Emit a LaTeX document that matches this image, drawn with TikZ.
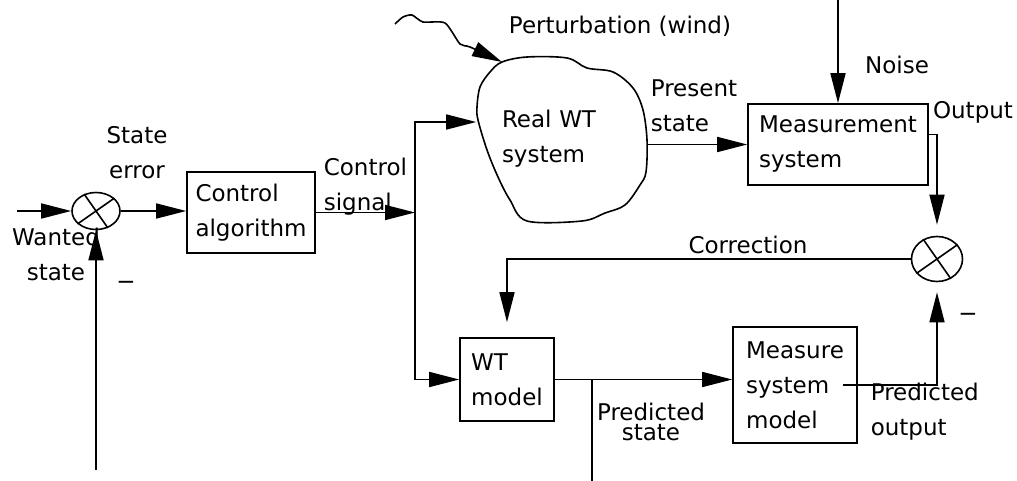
\documentclass[tikz,border=0pt]{standalone}
\usepackage{fontspec}
\setmainfont{DejaVu Sans}
\usetikzlibrary{arrows.meta,shapes.geometric,calc}
\newcommand{\sumcross}[1]{%
  \draw (#1.125)--(#1.-55); \draw (#1.215)--(#1.35);}

\begin{document}
\begin{tikzpicture}[x=0.5pt,y=-0.5pt,line width=0.8pt,
  >={Triangle[length=15pt,width=7.5pt]},
  every node/.style={font=\fontsize{11.5}{17.5}\selectfont},
  block/.style={draw,align=left,inner sep=0pt},
  junction/.style={draw,ellipse,inner sep=0pt},
  lbl/.style={inner sep=0pt}]
  \useasboundingbox (0,0) rectangle (1017,481);
  \node[junction,minimum width=24pt,minimum height=18.5pt] (sum1) at (96,211) {};
  \node[junction,minimum width=25.5pt,minimum height=22.5pt] (sum2) at (937,259) {};
  \sumcross{sum1}
  \sumcross{sum2}
  \node[block,minimum width=64pt,minimum height=40.5pt] (ctrl) at (251,212.5) {Control\\algorithm};
  \node[minimum height=82pt,text width=60pt,inner xsep=12.5pt,align=left] (rwt) at (562,139) {Real WT\\system};
  \node[block,minimum width=90pt,minimum height=40.5pt] (meas) at (838,144.5) {Measurement\\system};
  \node[block,minimum width=47pt,minimum height=41.5pt] (wtm) at (507,379.5) {WT\\model};
  \node[block,minimum width=62pt,minimum height=58pt] (msm) at (795,385) {Measure\\system\\model};
  \draw plot[smooth cycle,tension=0.55] coordinates {(502,62) (527,57) (567,58) (587,68)
    (613,72) (633,88) (643,110) (647,140) (646,172) (640,185) (625,205) (605,213)
    (582,221) (527,221) (510,200) (498,177) (487,150) (478,120) (477,107) (480,87) (490,72)};
  \draw[->] plot[smooth,tension=0.4] coordinates {(395,24) (403,17) (412,15) (423,22)
    (445,23) (460,44) (470,47) (502,62)};

  \coordinate (in) at (17,211);
  \coordinate (fb) at (96,470);
  \coordinate (top) at (415,122);
  \coordinate (bot) at (415,379.5);
  \coordinate (noise) at (838,0);
  \coordinate (branch) at (592,379.5);
  \coordinate (pstate) at (592,481);

  \draw[->] (in)--(sum1.west);
  \draw[->] (sum1.east)--(sum1.east -| ctrl.west);
  \draw[->] (fb)--(sum1.south);
  \draw[->] (ctrl.east)--(ctrl.east -| top);
  \draw[<->] (top -| rwt.west)--(top)--(bot)--(wtm.west);
  \draw[->] (meas.west -| rwt.east)--(meas.west);
  \draw[->] (noise)--(meas.north);
  \draw[->,shorten >=5.5pt] ([yshift=5pt]meas.east) -| (sum2.north);
  \draw[->,shorten >=7.5pt] (sum2.west) -| (wtm.north);
  \draw[->] (wtm.east)--(wtm.east -| msm.west);
  \draw (branch)--(pstate);
  \draw[->,shorten >=5pt] ([xshift=-7.5pt]msm.east) -| (sum2.south);

  \node[lbl,align=center] (errlbl) at (137,153) {State\\error};
  \node[lbl,anchor=west,align=left] (siglbl) at (323,187) {Control\\signal};
  \node[lbl,align=center] (wantlbl) at (56,254) {Wanted\\state};
  \node[lbl] (windlbl) at (620,26) {Perturbation (wind)};
  \node[lbl,anchor=west,align=left] (preslbl) at (650,106) {Present\\state};
  \node[lbl] (noiselbl) at (897,65) {Noise};
  \node[lbl] (outlbl) at (973,112) {Output};
  \node[lbl] (corrlbl) at (748,245) {Correction};
  \node[lbl,align=center] (pslbl) at (651,422) {Predicted\\[-7.5pt]state};
  \node[lbl,anchor=west,align=left] (polbl) at (870,412) {Predicted\\output};
  \node[lbl] (minus1) at (126,285) {−};
  \node[lbl] (minus2) at (968,317) {−};
\end{tikzpicture}
\end{document}
